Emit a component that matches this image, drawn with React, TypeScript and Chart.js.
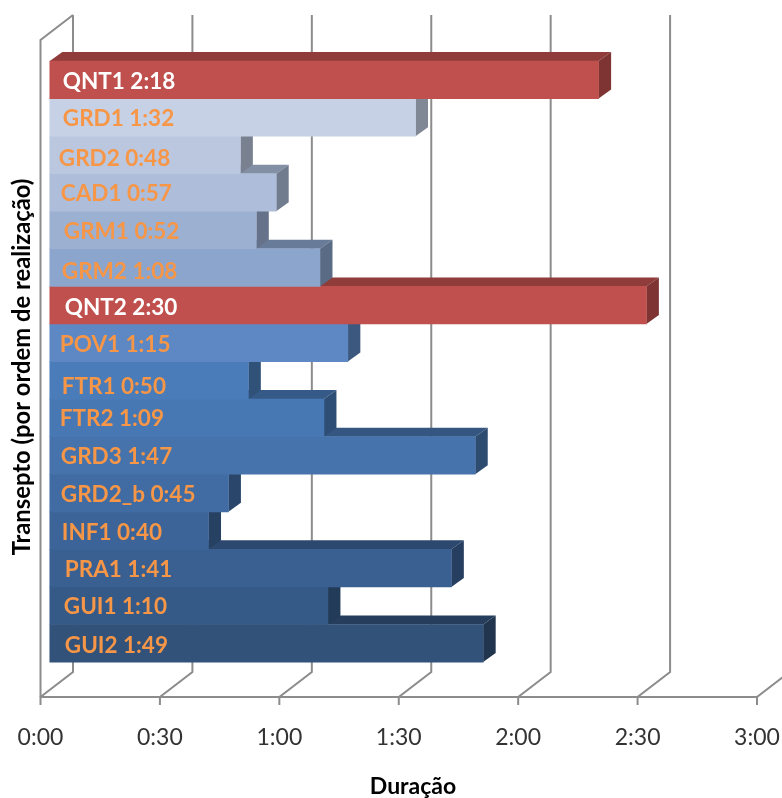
import React, { useEffect, useRef } from "react";
import { Chart, registerables } from "chart.js";

Chart.register(...registerables);

const transects = ["QNT1","GRD1","GRD2","CAD1","GRM1","GRM2","QNT2","POV1","FTR1","FTR2","GRD3","GRD2_b","INF1","PRA1","GUI1","GUI2"];
const durations = [138,92,48,57,52,68,150,75,50,69,107,45,40,101,70,109];
const barColors = ["#C0504D","#C6D1E5","#BAC7DF","#AEBEDA","#9CB0D2","#8BA5CC","#C0504D","#5E88C3","#4A7CB9","#4878B4","#4673AC","#416CA3","#3C6498","#3A6092","#355A88","#32527A"];
const xTickStep = 30;
const xMax = 180;
const xTitle = "Duração";
const yTitle = "Transepto (por ordem de realização)";

// Small hand placement of the in-bar captions, relative to the bar start and centre.
const captionNudgeX = [13,13,9,11,14,12,15,10,12,10,11,11,12,15,14,15];
const captionNudgeY = [2,1,4,1,2,4,3,2,6,1,1,2,2.5,2,1,2];

const FONT = "Lato, 'Open Sans', sans-serif";
const GRID = "#8C8C8C";
const WALL_DX = 32.5;
const WALL_DY = 25;
const TICK_LEN = 8;
const BAR_DX = 12.5;
const BAR_DY = 9;
const BAR_SHIFT = 8.8;

const fmt = (m: number) => `${Math.floor(m / 60)}:${String(m % 60).padStart(2, "0")}`;

function shade(hex: string, k: number) {
  const n = parseInt(hex.slice(1), 16);
  const c = (s: number) => Math.round(((n >> s) & 255) * k);
  return `rgb(${c(16)},${c(8)},${c(0)})`;
}

function poly(ctx: CanvasRenderingContext2D, pts: number[][], fill: string) {
  ctx.beginPath();
  pts.forEach(([x, y], i) => (i ? ctx.lineTo(x, y) : ctx.moveTo(x, y)));
  ctx.closePath();
  ctx.fillStyle = fill;
  ctx.fill();
}

// Back wall and floor of the 3-D box, drawn from the x scale's ticks.
const wallPlugin = {
  id: "wall",
  beforeDatasetsDraw(chart: any) {
    const { ctx, chartArea: a, scales } = chart;
    ctx.save();
    ctx.strokeStyle = GRID;
    ctx.lineWidth = 2;
    scales.x.ticks.forEach((t: any) => {
      const x = scales.x.getPixelForValue(t.value);
      ctx.beginPath();
      ctx.moveTo(x, a.bottom + TICK_LEN);
      ctx.lineTo(x, a.bottom);
      ctx.lineTo(x + WALL_DX, a.bottom - WALL_DY);
      ctx.lineTo(x + WALL_DX, a.top - WALL_DY);
      ctx.stroke();
    });
    const x0 = scales.x.left;
    ctx.beginPath();
    ctx.moveTo(x0 + WALL_DX, a.top - WALL_DY);
    ctx.lineTo(x0, a.top);
    ctx.lineTo(x0, a.bottom);
    ctx.stroke();
    ctx.restore();
  },
};

// Extruded bars: painted bottom row first so each row covers the one beneath it.
const extrudePlugin = {
  id: "extrude",
  beforeDatasetDraw(chart: any, args: any) {
    const { ctx } = chart;
    const els = args.meta.data;
    ctx.save();
    ctx.translate(BAR_SHIFT, 0);
    for (let i = els.length - 1; i >= 0; i--) {
      const el = els[i];
      const top = el.y - el.height / 2;
      const bot = el.y + el.height / 2;
      const color = barColors[i];
      poly(ctx, [[el.base, top], [el.base + BAR_DX, top - BAR_DY], [el.x + BAR_DX, top - BAR_DY], [el.x, top]], shade(color, 0.75));
      poly(ctx, [[el.x, top], [el.x + BAR_DX, top - BAR_DY], [el.x + BAR_DX, bot - BAR_DY], [el.x, bot]], shade(color, 0.65));
      el.draw(ctx);
    }
    ctx.font = `bold 22.5px ${FONT}`;
    ctx.textBaseline = "middle";
    els.forEach((el: any, i: number) => {
      ctx.fillStyle = barColors[i] === "#C0504D" ? "#FFFFFF" : "#F79646";
      ctx.fillText(`${transects[i]} ${fmt(durations[i])}`, el.base + captionNudgeX[i], el.y + captionNudgeY[i]);
    });
    ctx.restore();
    return false;
  },
};

const titlesPlugin = {
  id: "axisTitles",
  afterDraw(chart: any) {
    const { ctx } = chart;
    ctx.save();
    ctx.fillStyle = "#000";
    ctx.textAlign = "center";
    ctx.textBaseline = "middle";
    ctx.font = `bold 23px ${FONT}`;
    ctx.fillText(xTitle, 413, 787);
    ctx.translate(22, 367);
    ctx.rotate(-Math.PI / 2);
    ctx.font = `bold 23.8px ${FONT}`;
    ctx.fillText(yTitle, 0, 0);
    ctx.restore();
  },
};

export default function App() {
  const ref = useRef<HTMLCanvasElement>(null);
  useEffect(() => {
    const chart = new Chart(ref.current!, {
      type: "bar",
      data: {
        labels: transects,
        datasets: [{
          data: durations.map((v, i) => ({ x: v, y: i })) as any,
          backgroundColor: barColors,
          barPercentage: 1,
          categoryPercentage: 1,
        }],
      },
      options: {
        indexAxis: "y",
        responsive: false,
        animation: false,
        layout: { padding: { left: 40.5, right: 25, top: 40, bottom: 0 } },
        plugins: { legend: { display: false }, tooltip: { enabled: false } },
        scales: {
          x: {
            type: "linear",
            min: 0,
            max: xMax,
            afterFit: (s: any) => { s.height = 101; },
            grid: { drawOnChartArea: false, tickColor: "rgba(0,0,0,0)", tickLength: 25 },
            border: { color: GRID, width: 2 },
            ticks: {
              stepSize: xTickStep,
              padding: 2,
              color: "#333333",
              font: { family: FONT, size: 23 },
              maxRotation: 0,
              callback: (v: any) => fmt(Number(v)),
            },
          },
          y: {
            type: "linear",
            reverse: true,
            offset: false,
            min: -1.06,
            max: 16.43,
            display: false,
            afterBuildTicks: (s: any) => { s.ticks = transects.map((_, i) => ({ value: i })); },
          },
        },
      },
      plugins: [wallPlugin, extrudePlugin, titlesPlugin],
    } as any);
    return () => chart.destroy();
  }, []);
  return (
    <div style={{ position: "absolute", left: 0, top: 0, background: "#fff" }}>
      <canvas ref={ref} width={782} height={798} style={{ display: "block" }} />
    </div>
  );
}
